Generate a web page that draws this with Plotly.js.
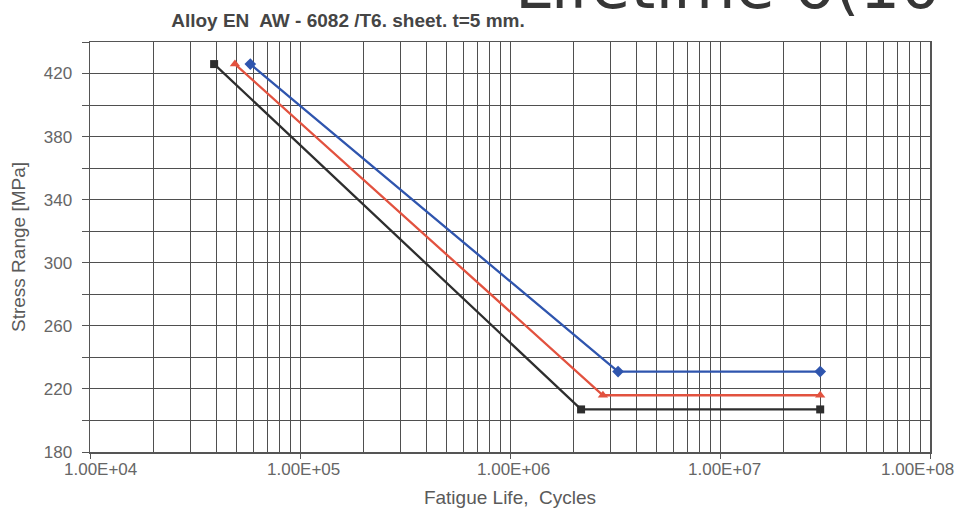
<!DOCTYPE html>
<html>
<head>
<meta charset="utf-8">
<script src="https://cdn.plot.ly/plotly-3.0.1.min.js"></script>
<style>
  html, body { margin: 0; padding: 0; background: #ffffff; }
  #chart { width: 969px; height: 523px; }
</style>
</head>
<body>
<div id="chart"></div>
<script>
// S-N curves, alloy EN AW-6082/T6, 5 mm sheet
const cyclesBlack = [3.9e4, 2.18e6, 3.0e7];
const stressBlack = [426, 207, 207];

const cyclesRed = [4.9e4, 2.77e6, 3.0e7];
const stressRed = [426, 216, 216];

const cyclesBlue = [5.8e4, 3.27e6, 3.0e7];
const stressBlue = [426, 231, 231];

const xTickVals = [1e4, 1e5, 1e6, 1e7, 1e8];
const xTickText = ['1.00E+04', '1.00E+05', '1.00E+06', '1.00E+07', '1.00E+08'];
const yTickVals = [180, 220, 260, 300, 340, 380, 420];
const yTickText = ['180', '220', '260', '300', '340', '380', '420'];

// end labels are pulled inside the plot width, the others sit just right of their tick
const xLabelShift = [10, 3, 3, 4, -13];

// minor gridlines: 2..9 within each decade, and every 20 MPa between labels
const xMinor = [];
for (let d = 4; d < 8; d++) {
  for (let m = 2; m <= 9; m++) xMinor.push(m * Math.pow(10, d));
}
const yMinor = [];
for (let v = 200; v <= 440; v += 40) yMinor.push(v);

const gridColor = '#4f4f4f';
const labelFont = { family: 'Liberation Sans, Arial, sans-serif', size: 17, color: '#666666' };
const titleFont = { family: 'Liberation Sans, Arial, sans-serif', size: 19, color: '#5a5a5a' };

const traces = [
  {
    x: cyclesBlack, y: stressBlack, type: 'scatter', mode: 'lines+markers',
    line: { color: '#2e2e2e', width: 2.3 },
    marker: { symbol: 'square', size: 8, color: '#2e2e2e' }
  },
  {
    x: cyclesRed, y: stressRed, type: 'scatter', mode: 'lines+markers',
    line: { color: '#e2523f', width: 2.3 },
    marker: { symbol: 'triangle-up', size: 9, color: '#e2523f' }
  },
  {
    x: cyclesBlue, y: stressBlue, type: 'scatter', mode: 'lines+markers',
    line: { color: '#2f55ae', width: 2.3 },
    marker: { symbol: 'diamond', size: 9, color: '#2f55ae' }
  }
];

// x tick labels drawn as annotations so each can carry its own offset
const xLabelAnnotations = xTickVals.map((v, i) => ({
  text: xTickText[i],
  xref: 'x', yref: 'paper',
  x: Math.log10(v), y: 0, xanchor: 'center', yanchor: 'top',
  xshift: xLabelShift[i], yshift: -6,
  showarrow: false,
  font: labelFont
}));

const layout = {
  width: 969, height: 523,
  paper_bgcolor: '#ffffff', plot_bgcolor: '#ffffff',
  showlegend: false,
  margin: { l: 90, r: 39, t: 42, b: 71 },
  title: {
    text: '<b>Alloy EN\u00a0 AW - 6082 /T6. sheet. t=5 mm.</b>',
    x: 348 / 969, xanchor: 'center', xref: 'container',
    y: 1 - 20 / 523, yanchor: 'middle', yref: 'container',
    font: { family: 'Liberation Sans, Arial, sans-serif', size: 19, color: '#454545' }
  },
  xaxis: {
    type: 'log', range: [4, 8],
    tickmode: 'array', tickvals: xTickVals, ticktext: xTickVals.map(() => ''),
    tickfont: labelFont,
    ticks: 'outside', ticklen: 5, tickcolor: '#555555', tickwidth: 1,
    showgrid: true, gridcolor: gridColor, gridwidth: 1,
    minor: { tickmode: 'array', tickvals: xMinor, showgrid: true, gridcolor: gridColor, gridwidth: 1, ticks: '' },
    showline: true, linecolor: '#555555', linewidth: 1.5, mirror: true,
    zeroline: false,
    title: { text: 'Fatigue Life,\u00a0 Cycles', standoff: 30, font: titleFont }
  },
  yaxis: {
    range: [180, 440],
    tickmode: 'array', tickvals: yTickVals, ticktext: yTickText,
    tickfont: labelFont,
    ticks: 'outside', ticklen: 7, tickcolor: '#555555', tickwidth: 1,
    ticklabelstandoff: 6,
    showgrid: true, gridcolor: gridColor, gridwidth: 1,
    minor: { tickmode: 'array', tickvals: yMinor, showgrid: true, gridcolor: gridColor, gridwidth: 1,
             ticks: 'outside', ticklen: 7, tickcolor: '#555555' },
    showline: true, linecolor: '#555555', linewidth: 1.5, mirror: true,
    zeroline: false,
    title: { text: 'Stress Range [MPa]', standoff: 13, font: titleFont }
  },
  annotations: xLabelAnnotations.concat([
    {
      text: 'Lifetime δ(10',
      xref: 'paper', yref: 'paper',
      x: (513 - 90) / 840, xanchor: 'left',
      y: 1 + (42 - 25) / 410, yanchor: 'bottom',
      showarrow: false,
      font: { family: 'DejaVu Sans, sans-serif', size: 64, color: '#363636' }
    }
  ])
};

Plotly.newPlot('chart', traces, layout, { staticPlot: true, displayModeBar: false });
</script>
</body>
</html>
